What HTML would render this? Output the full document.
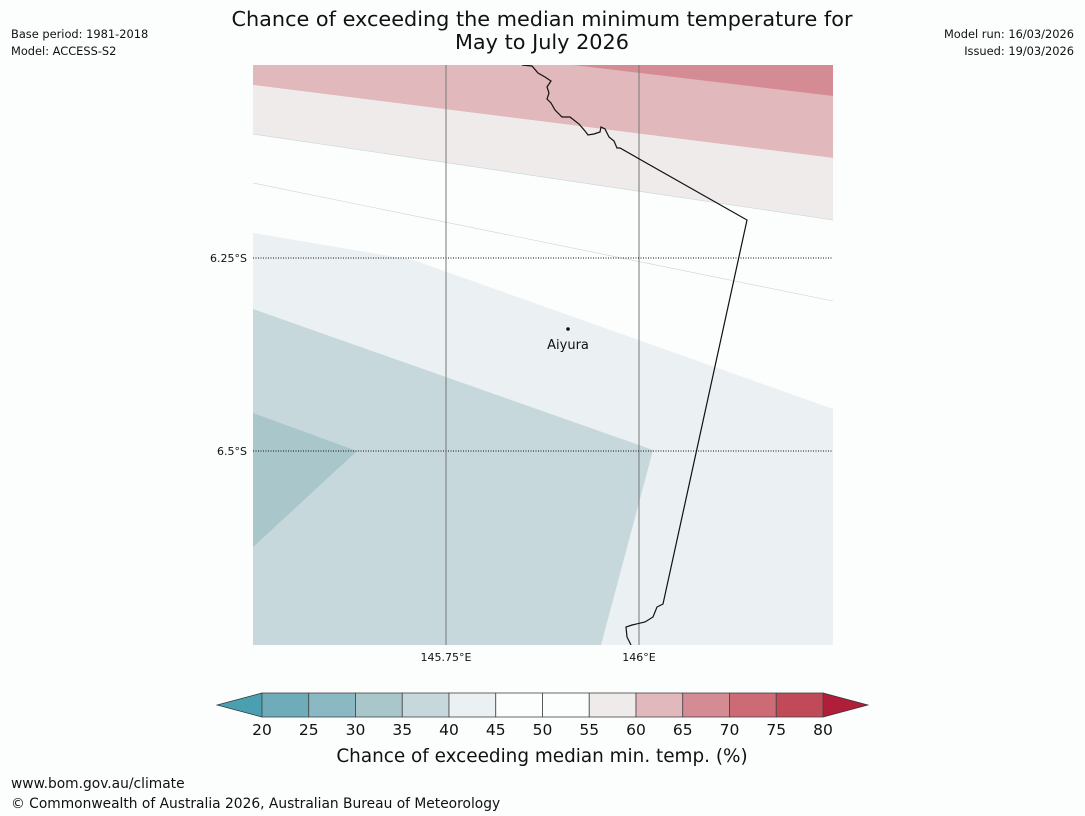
<!DOCTYPE html>
<html><head><meta charset="utf-8"><style>
body{margin:0;background:#fcfdfd;font-family:"Liberation Sans","DejaVu Sans",sans-serif;}
svg{display:block}
</style></head><body>
<svg width="1085" height="816" viewBox="0 0 1085 816" font-family="DejaVu Sans, Liberation Sans, sans-serif">
<rect x="0" y="0" width="1085" height="816" fill="#fcfdfd"/>
<text x="542" y="26" text-anchor="middle" font-size="20.8" fill="#111">Chance of exceeding the median minimum temperature for</text>
<text x="542" y="49" text-anchor="middle" font-size="20.8" fill="#111">May to July 2026</text>
<text x="11" y="38" font-size="11.4" fill="#111">Base period: 1981-2018</text>
<text x="11" y="55" font-size="11.4" fill="#111">Model: ACCESS-S2</text>
<text x="1074" y="38" font-size="11.4" text-anchor="end" fill="#111">Model run: 16/03/2026</text>
<text x="1074" y="55" font-size="11.4" text-anchor="end" fill="#111">Issued: 19/03/2026</text>

<g>
<defs><clipPath id="mc"><rect x="253" y="65" width="580" height="580"/></clipPath></defs>
<g clip-path="url(#mc)">
<rect x="253" y="65" width="580" height="580" fill="#fcfdfd"/>
<polygon points="253,65 833,65 833,158 253,85" fill="#e1b8bc"/>
<polygon points="573,65 833,65 833,96" fill="#d58b94"/>
<polygon points="253,85 833,158 833,220 253,134" fill="#eeebea"/>
<line x1="253" y1="134" x2="833" y2="220" stroke="#c8d4d8" stroke-width="0.6"/>
<line x1="253" y1="183" x2="833" y2="301" stroke="#c8d4d8" stroke-width="0.6"/>
<polygon points="253,233 413,260 833,409 833,645 253,645" fill="#ebf0f2"/>
<polygon points="253,309 653,450 601,645 253,645" fill="#c6d8dc"/>
<polygon points="253,413 357,451 253,547" fill="#a9c6cb"/>
<line x1="446" y1="65" x2="446" y2="645" stroke="#777" stroke-width="1"/>
<line x1="639" y1="65" x2="639" y2="645" stroke="#777" stroke-width="1"/>
<line x1="253" y1="258" x2="833" y2="258" stroke="#111" stroke-width="1" stroke-dasharray="1,1.5"/>
<line x1="253" y1="451" x2="833" y2="451" stroke="#111" stroke-width="1" stroke-dasharray="1,1.5"/>
<polyline fill="none" stroke="#111" stroke-width="1.2" points="522,65 532,66 538,73 545,77 551,81 547,87 549,93 547,99 551,103 555,110 562,117 570,117 579,124 585,131 588,135 594,134 600,132 601,127 605,129 609,137 614,141 617,148 620,148 747,220 663,604 657,607 653,617 645,622 632,625 626,627 627,637 631,645"/>
</g>
<circle cx="568" cy="329" r="1.8" fill="#111"/>
<text x="568" y="349" text-anchor="middle" font-size="13" fill="#111">Aiyura</text>
<text x="247" y="262" text-anchor="end" font-size="11" fill="#111">6.25°S</text>
<text x="247" y="455" text-anchor="end" font-size="11" fill="#111">6.5°S</text>
<text x="446" y="661" text-anchor="middle" font-size="11" fill="#111">145.75°E</text>
<text x="639" y="661" text-anchor="middle" font-size="11" fill="#111">146°E</text>
</g>

<g id="cbar"></g>
<text x="542" y="762" text-anchor="middle" font-size="18.4" fill="#111">Chance of exceeding median min. temp. (%)</text>
<text x="11" y="788" font-size="13.8" fill="#111">www.bom.gov.au/climate</text>
<text x="11" y="808" font-size="13.8" fill="#111">© Commonwealth of Australia 2026, Australian Bureau of Meteorology</text>
</svg>
<script>
const ticks=[20,25,30,35,40,45,50,55,60,65,70,75,80];
const colors=["#6eacb9","#8ab9c3","#a9c6cb","#c6d8dc","#ebf0f2","#fcfdfd","#fcfdfd","#eeebea","#e1b8bc","#d58b94","#cc6a76","#c14a59"];
const x0=262,x1=823,y0=693,y1=717;
const g=document.getElementById('cbar');
const ns="http://www.w3.org/2000/svg";
function sx(v){return x0+(v-20)/60*(x1-x0);}
const l=document.createElementNS(ns,'polygon');
l.setAttribute('points',`${x0},${y0} 217,${(y0+y1)/2} ${x0},${y1}`);l.setAttribute('fill','#4aa0b0');l.setAttribute('stroke','#333');l.setAttribute('stroke-width','0.7');


g.appendChild(l);
const r=document.createElementNS(ns,'polygon');
r.setAttribute('points',`${x1},${y0} 868,${(y0+y1)/2} ${x1},${y1}`);r.setAttribute('fill','#b01e3a');r.setAttribute('stroke','#333');r.setAttribute('stroke-width','0.7');


g.appendChild(r);
for(let i=0;i<colors.length;i++){
 const b=document.createElementNS(ns,'rect');
 const a=sx(ticks[i]),c=sx(ticks[i+1]);
 b.setAttribute('x',a);b.setAttribute('y',y0);b.setAttribute('width',c-a);b.setAttribute('height',y1-y0);
 b.setAttribute('fill',colors[i]);b.setAttribute('stroke','#444');b.setAttribute('stroke-width','0.8');
 
 
 g.appendChild(b);
}
ticks.forEach(t=>{
 const tx=document.createElementNS(ns,'text');
 tx.setAttribute('x',sx(t));tx.setAttribute('y',735);tx.setAttribute('text-anchor','middle');tx.setAttribute('font-size','15.5');tx.setAttribute('fill','#111');
 tx.textContent=t;
 
 
 g.appendChild(tx);
});
</script>
</body></html>
